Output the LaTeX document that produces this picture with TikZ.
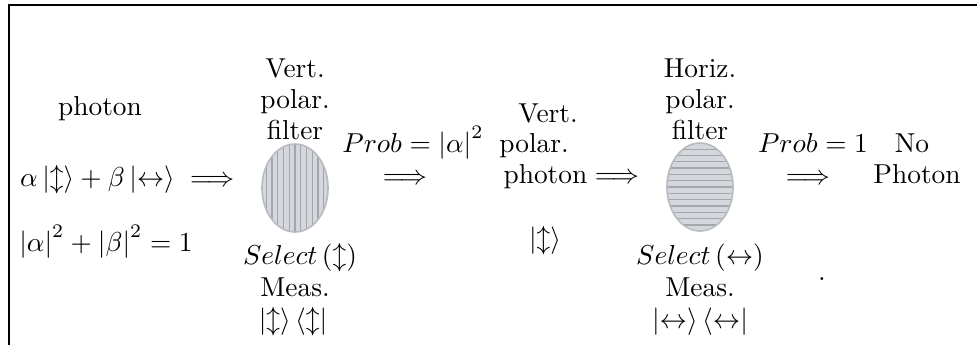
\documentclass[tikz,border=0pt]{standalone}
\usepackage{amsmath,amssymb}
\usetikzlibrary{shapes.geometric}
\definecolor{filtfill}{HTML}{D4D7DB}
\definecolor{filtline}{HTML}{A3A6AB}
\definecolor{filtedge}{HTML}{B8BBBF}
\begin{document}
\begin{tikzpicture}[x=0.365pt,y=-0.365pt,
  txt/.style={inner sep=0pt, anchor=base},
  filt/.style={ellipse, fill=filtfill, draw=filtedge, line width=0.6pt,
    minimum width=24.1pt, minimum height=32.1pt, inner sep=0pt}]
\useasboundingbox (0,0) rectangle (977,345);
% frame
\draw[line width=1pt] (9,345) -- (9,5) -- (977,5);

% left column
\node[txt] (ph) at (100,115) {photon};
\node[txt] (st) at (131,186) {$\alpha\left|\updownarrow\right\rangle+\beta\left|\leftrightarrow\right\rangle\implies$};
\node[txt] (norm) at (106,251) {$\left|\alpha\right|^2+\left|\beta\right|^2=1$};

% first filter
\node[txt] (v1a) at (295,77) {Vert.};
\node[txt] (v1b) at (295,108) {polar.};
\node[txt] (v1c) at (295,139) {filter};
\node[filt, path picture={
   \foreach \i in {-6,...,6}
     \draw[filtline, line width=0.5pt]
       ([xshift=\i*2.1pt]path picture bounding box.north) --
       ([xshift=\i*2.1pt]path picture bounding box.south);}] (f1) at (295,188) {};
\node[txt] (s1) at (300,264) {$Select\left(\updownarrow\right)$};
\node[txt] (m1) at (295,296) {Meas.};
\node[txt] (p1) at (293,328) {$\left|\updownarrow\right\rangle\left\langle\updownarrow\right|$};

% probability 1
\node[txt] (pr1) at (413,152) {$Prob=\left|\alpha\right|^2$};
\node[txt] (a1) at (405,184) {$\implies$};

% vertically polarized photon
\node[txt] (v2a) at (548,122) {Vert.};
\node[txt] (v2b) at (534,152) {polar.};
\node[txt, anchor=base west] (v2c) at (503,183) {photon$\implies$};
\node[txt] (k2) at (545,247) {$\left|\updownarrow\right\rangle$};

% second filter
\node[txt] (h1a) at (700,77) {Horiz.};
\node[txt] (h1b) at (700,108) {polar.};
\node[txt] (h1c) at (700,139) {filter};
\node[filt, path picture={
   \foreach \i in {-8,...,8}
     \draw[filtline, line width=0.5pt]
       ([yshift=\i*2.3pt]path picture bounding box.west) --
       ([yshift=\i*2.3pt]path picture bounding box.east);}] (f2) at (700,187) {};
\node[txt] (s2) at (700,264) {$Select\left(\leftrightarrow\right)$};
\node[txt] (m2) at (700,296) {Meas.};
\node[txt] (p2) at (700,328) {$\left|\leftrightarrow\right\rangle\left\langle\leftrightarrow\right|$};

% probability 2
\node[txt] (pr2) at (813,152) {$Prob=1$};
\node[txt] (a2) at (808,184) {$\implies$};
\node[txt] (np1) at (912,152) {No};
\node[txt] (np2) at (917,183) {Photon};
\node[txt] (dot) at (822,280) {.};
\end{tikzpicture}
\end{document}
